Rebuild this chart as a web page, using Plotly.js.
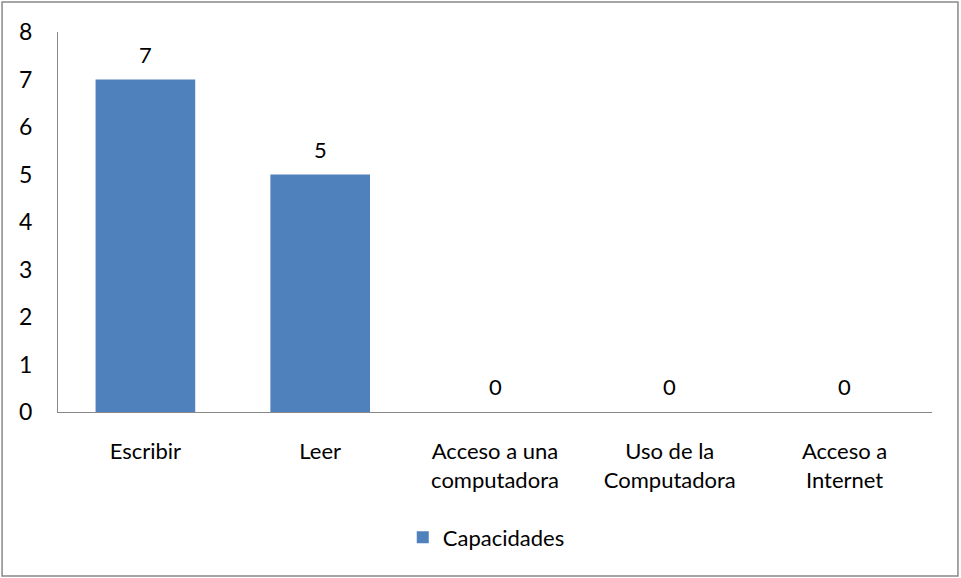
<!DOCTYPE html>
<html><head><meta charset="utf-8">
<script src="https://cdn.plot.ly/plotly-3.0.1.min.js"></script>
<style>html,body{margin:0;padding:0;background:#fff}</style>
</head><body><div id="chart" style="width:961px;height:578px"></div>
<script>
const categories = ["Escribir", "Leer", "Acceso a una<br>computadora", "Uso de la<br>Computadora", "Acceso a<br>Internet"];
const values = [7, 5, 0, 0, 0];
const seriesName = "Capacidades";
const yTicks = [0, 1, 2, 3, 4, 5, 6, 7, 8];

const fontFam = "Lato, 'Open Sans', sans-serif";
const FS = 22;
const trace = {
  type: 'bar', x: categories, y: values, name: seriesName,
  marker: {color: '#4F81BD'},
  width: 0.57, showlegend: true, hoverinfo: 'none'
};
const labels = categories.map((c, i) => ({
  x: c, y: values[i], xref: 'x', yref: 'y', text: String(values[i]),
  showarrow: false, yanchor: 'bottom', yshift: 10,
  font: {family: fontFam, size: FS, color: '#000'}
}));
const layout = {
  width: 961, height: 578,
  margin: {l: 58, r: 29, t: 32, b: 166},
  paper_bgcolor: '#fff', plot_bgcolor: '#fff',
  font: {family: fontFam, size: FS, color: '#000'},
  xaxis: {showline: true, linecolor: '#888', linewidth: 1, ticks: '', showgrid: false, zeroline: false,
          tickfont: {family: fontFam, size: FS}, automargin: false, ticklabelstandoff: 20},
  yaxis: {range: [0, 8], tickvals: yTicks, showline: true, linecolor: '#888', linewidth: 1,
          ticks: '', showgrid: false, zeroline: false, ticklabelstandoff: 20,
          tickfont: {family: fontFam, size: 23}, automargin: false},
  showlegend: true,
  legend: {orientation: 'h', x: 0.49, xanchor: 'center', y: -0.33, yanchor: 'middle',
           font: {family: fontFam, size: FS}, itemwidth: 30},
  annotations: labels,
  shapes: [{type: 'rect', xref: 'paper', yref: 'paper', x0: -0.064, x1: 1.0297, y0: -0.4316, y1: 1.079,
            line: {color: '#888', width: 1.5}, fillcolor: 'rgba(0,0,0,0)'}]
};
Plotly.newPlot('chart', [trace], layout, {displayModeBar: false, staticPlot: true});
</script></body></html>
